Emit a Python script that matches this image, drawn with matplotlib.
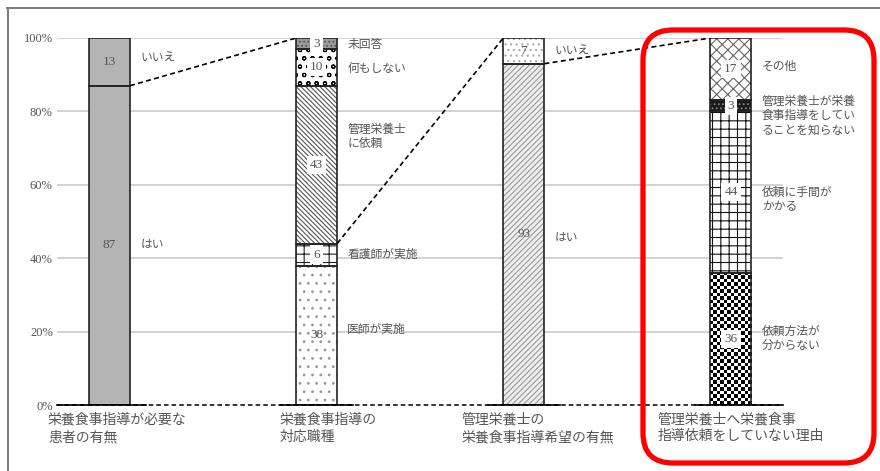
import numpy as np
import matplotlib
matplotlib.use("Agg")
import matplotlib.pyplot as plt
from matplotlib.patches import FancyBboxPatch
from matplotlib.lines import Line2D
from matplotlib.transforms import IdentityTransform, blended_transform_factory

plt.rcParams['font.family'] = ['Liberation Serif', 'Noto Sans CJK JP', 'DejaVu Sans']
plt.rcParams['hatch.linewidth'] = 0.8

# ---------------- data ----------------
categories = ['栄養食事指導が必要な\n患者の有無',
              '栄養食事指導の\n対応職種',
              '管理栄養士の\n栄養食事指導希望の有無',
              '管理栄養士へ栄養食事\n指導依頼をしていない理由']

bar1_labels = ['はい', 'いいえ']
bar1_values = [87, 13]

bar2_labels = ['医師が実施', '看護師が実施', '管理栄養士\nに依頼', '何もしない', '未回答']
bar2_values = [38, 6, 43, 10, 3]

bar3_labels = ['はい', 'いいえ']
bar3_values = [93, 7]

bar4_labels = ['依頼方法が\n分からない', '依頼に手間が\nかかる',
               '管理栄養士が栄養\n食事指導をしてい\nることを知らない', 'その他']
bar4_values = [36, 44, 3, 17]

yticks = [0, 20, 40, 60, 80, 100]

# connectors: (from bar, boundary index in cumulative sums) -> top of next bar
connector_from = [(0, 1), (1, 2), (2, 1)]

# ---------------- styles (not data) ----------------
# (facecolor, hatchcolor, hatch, white box for number, label y shift)
styles = [
    [('#b4b4b4', None, None, False, 0), ('#b4b4b4', None, None, False, 1)],
    [('white', '#999999', '..', False, 1.4), ('white', '#222222', '++', True, 0),
     ('white', '#555555', '\\\\\\\\\\\\\\', True, 7.5), ('white', '#000000', 'oo', True, -0.7),
     ('#9a9a9a', '#555555', '....', True, -0.4)],
    [('#eeeeee', '#9a9a9a', '//////', False, -1), ('white', '#aaaaaa', '...', False, 0)],
    ['checker', ('white', '#111111', '++', True, -2.1),
     ('#1a1a1a', '#888888', '....', True, -2.8), ('white', '#666666', 'xxx', True, 0.5)],
]

all_values = [bar1_values, bar2_values, bar3_values, bar4_values]
all_labels = [bar1_labels, bar2_labels, bar3_labels, bar4_labels]

fig = plt.figure(figsize=(8.8, 4.71), dpi=100)
ax = fig.add_axes([57/880, 66/471, 726/880, 367/471])
xmin, xmax = -52.5/207, 3 + 52/207
ax.set_xlim(xmin, xmax)
ax.set_ylim(0, 100)
for s in ax.spines.values():
    s.set_visible(False)
ax.set_xticks([])
ax.set_yticks(yticks)
ax.set_yticklabels([f'{t}%' for t in yticks], color='#555555', fontsize=9)
ax.tick_params(axis='y', length=0, pad=3)

for t in yticks[1:]:
    ax.axhline(t, color='#cfcfcf', lw=1.3, zorder=0)

W = 0.198
txt_color = '#555555'
xs = np.arange(len(categories))

for i, (vals, labs) in enumerate(zip(all_values, all_labels)):
    bottoms = np.concatenate([[0], np.cumsum(vals)[:-1]])
    for j, (v, b, lab) in enumerate(zip(vals, bottoms, labs)):
        st = styles[i][j]
        if st == 'checker':
            n_rows, n_cols = 38, 12
            ii, jj = np.indices((n_rows, n_cols))
            img = ((ii + jj) % 2).astype(float)
            ax.imshow(img, cmap='gray', extent=(xs[i] - W/2, xs[i] + W/2, b, b + v),
                      aspect='auto', interpolation='nearest', zorder=2)
            box, shift = True, 0
        else:
            fc, hc, hatch, box, shift = st
            ax.bar(xs[i], v, W, bottom=b, color=fc,
                   edgecolor=hc if hc else fc, hatch=hatch, lw=0, zorder=2)
        ax.bar(xs[i], v, W, bottom=b, fill=False, edgecolor='#222222', lw=1.2, zorder=3)
        mid = b + v / 2
        bbox = dict(facecolor='white', edgecolor='none', pad=2.2) if box else None
        ax.text(xs[i], mid, str(v), ha='center', va='center', fontsize=9.5,
                color=txt_color, bbox=bbox, zorder=5)
        ax.text(xs[i] + 0.148, mid + shift, lab, ha='left', va='center', fontsize=8.5,
                color=txt_color, linespacing=1.3, zorder=5)

# baseline: dashed everywhere, solid around bars
ax.plot([xmin, xmax], [0, 0], color='black', lw=1.1, ls=(0, (3, 2)), zorder=4,
        clip_on=False)
for i in xs:
    l = xmin if i == 0 else i - 0.175
    r = xmax if i == xs[-1] else i + 0.175
    ax.plot([l, r], [0, 0], color='black', lw=1.2, zorder=4, clip_on=False)

# connectors
for (bi, k) in connector_from:
    y0 = np.concatenate([[0], np.cumsum(all_values[bi])])[k]
    ax.plot([xs[bi] + W/2, xs[bi + 1] - W/2], [y0, 100], color='black', lw=1.2,
            ls=(0, (3, 2)), zorder=4)

# category labels
cat_offsets = [-0.297, -0.181, -0.300, -0.353]
trans = blended_transform_factory(ax.transData, ax.transAxes)
for i, c in enumerate(categories):
    ax.text(xs[i] + cat_offsets[i], -0.022, c, transform=trans, ha='left', va='top',
            fontsize=10, color=txt_color, linespacing=1.35)

# outer frame
fig.add_artist(Line2D([7/880, 1], [1 - 8/471, 1 - 8/471], transform=fig.transFigure,
                      color='#7a7a7a', lw=1.4))
fig.add_artist(Line2D([8/880, 8/880], [0, 1 - 8/471], transform=fig.transFigure,
                      color='#7a7a7a', lw=1.4))

# red highlight box
red = FancyBboxPatch((643, 8), 231, 433, boxstyle='round,pad=0,rounding_size=30',
                     transform=IdentityTransform(), fill=False, edgecolor='#ff0000',
                     lw=3.8, zorder=10)
fig.add_artist(red)

fig.savefig('out.png', dpi=100)
